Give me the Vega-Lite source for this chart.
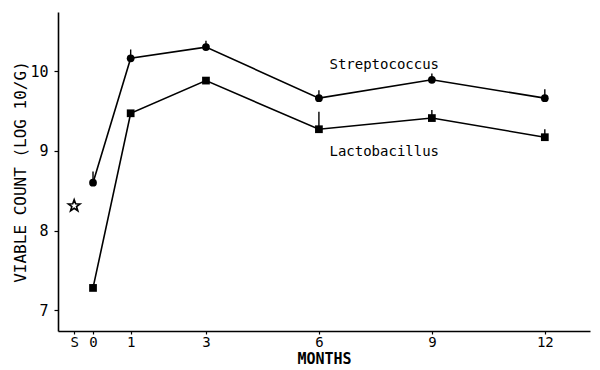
{
  "$schema": "https://vega.github.io/schema/vega-lite/v6.json",
  "width": 532,
  "height": 319,
  "autosize": "none",
  "padding": {"left": 58, "top": 12, "right": 10, "bottom": 39},
  "background": "white",
  "config": {
    "view": {"stroke": null},
    "font": "DejaVu Sans Mono",
    "axis": {
      "domainColor": "black",
      "domainWidth": 1.6,
      "tickColor": "black",
      "tickWidth": 1.2,
      "grid": false,
      "labelFont": "DejaVu Sans Mono",
      "labelFontSize": 15,
      "labelColor": "black",
      "titleFont": "DejaVu Sans Mono",
      "titleColor": "black"
    }
  },
  "datasets": {
    "counts": [
      {"month": 0, "series": "Streptococcus", "value": 8.6, "upper": 8.74},
      {"month": 1, "series": "Streptococcus", "value": 10.16, "upper": 10.27},
      {"month": 3, "series": "Streptococcus", "value": 10.3, "upper": 10.38},
      {"month": 6, "series": "Streptococcus", "value": 9.66, "upper": 9.76},
      {"month": 9, "series": "Streptococcus", "value": 9.89, "upper": 9.97},
      {"month": 12, "series": "Streptococcus", "value": 9.66, "upper": 9.77},
      {"month": 0, "series": "Lactobacillus", "value": 7.28, "upper": 7.33},
      {"month": 1, "series": "Lactobacillus", "value": 9.47, "upper": 9.47},
      {"month": 3, "series": "Lactobacillus", "value": 9.88, "upper": 9.88},
      {"month": 6, "series": "Lactobacillus", "value": 9.27, "upper": 9.49},
      {"month": 9, "series": "Lactobacillus", "value": 9.41, "upper": 9.51},
      {"month": 12, "series": "Lactobacillus", "value": 9.17, "upper": 9.27}
    ],
    "starter": [
      {"month": -0.5, "value": 8.31}
    ],
    "labels": [
      {"month": 6.28, "value": 10.08, "text": "Streptococcus"},
      {"month": 6.28, "value": 8.98, "text": "Lactobacillus"}
    ]
  },
  "layer": [
    {
      "data": {"name": "counts"},
      "mark": {"type": "line", "color": "black", "strokeWidth": 1.6},
      "encoding": {
        "x": {
          "field": "month",
          "type": "quantitative",
          "scale": {"domain": [-0.93, 13.2], "nice": false, "zero": false},
          "axis": {
            "values": [-0.5, 0, 1, 3, 6, 9, 12],
            "labelExpr": "datum.value == -0.5 ? 'S' : datum.label",
            "tickSize": 3,
            "labelPadding": 1,
            "labelFontSize": 14,
            "title": "MONTHS",
            "titleFontSize": 15,
            "titleFontWeight": "bold",
            "titlePadding": 2
          }
        },
        "y": {
          "field": "value",
          "type": "quantitative",
          "scale": {"domain": [6.74, 10.74], "nice": false, "zero": false},
          "axis": {
            "values": [7, 8, 9, 10],
            "format": "d",
            "tickSize": 4,
            "labelPadding": 6,
            "title": "VIABLE COUNT (LOG 10/G)",
            "titleFontSize": 16,
            "titleFontWeight": "normal",
            "titlePadding": 1
          }
        },
        "detail": {"field": "series"}
      }
    },
    {
      "data": {"name": "counts"},
      "mark": {"type": "rule", "color": "black", "strokeWidth": 1.4},
      "encoding": {
        "x": {"field": "month", "type": "quantitative"},
        "y": {"field": "value", "type": "quantitative"},
        "y2": {"field": "upper"}
      }
    },
    {
      "data": {"name": "counts"},
      "mark": {"type": "point", "filled": true, "color": "black", "opacity": 1, "size": 60},
      "encoding": {
        "x": {"field": "month", "type": "quantitative"},
        "y": {"field": "value", "type": "quantitative"},
        "shape": {
          "field": "series",
          "type": "nominal",
          "scale": {"domain": ["Streptococcus", "Lactobacillus"], "range": ["circle", "square"]},
          "legend": null
        }
      }
    },
    {
      "data": {"name": "starter"},
      "mark": {
        "type": "point",
        "shape": "M0,-1L0.24,-0.33L0.95,-0.31L0.38,0.12L0.59,0.81L0,0.4L-0.59,0.81L-0.38,0.12L-0.95,-0.31L-0.24,-0.33Z",
        "filled": false,
        "stroke": "black",
        "strokeWidth": 1.6,
        "opacity": 1,
        "size": 150
      },
      "encoding": {
        "x": {"field": "month", "type": "quantitative"},
        "y": {"field": "value", "type": "quantitative"}
      }
    },
    {
      "data": {"name": "labels"},
      "mark": {"type": "text", "align": "left", "baseline": "middle", "fontSize": 14, "font": "DejaVu Sans Mono", "color": "black"},
      "encoding": {
        "x": {"field": "month", "type": "quantitative"},
        "y": {"field": "value", "type": "quantitative"},
        "text": {"field": "text"}
      }
    }
  ]
}
